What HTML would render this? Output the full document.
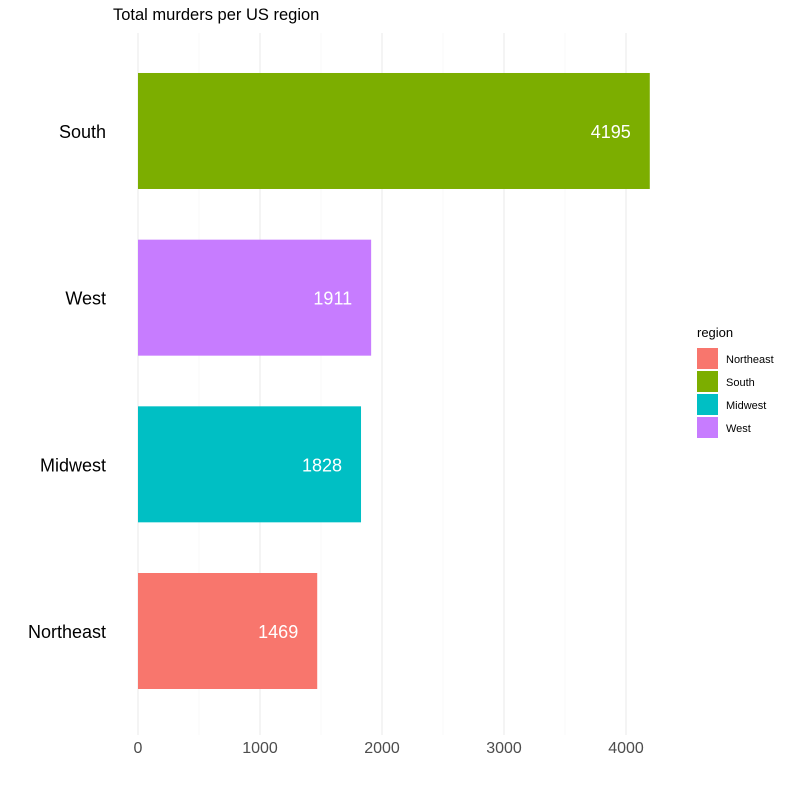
<!DOCTYPE html>
<html><head><meta charset="utf-8">
<style>
body{margin:0;background:#fff;font-family:"Liberation Sans",sans-serif;}
svg text{font-family:"Liberation Sans",sans-serif;}
</style></head>
<body>
<svg id="chart" width="793" height="781">
<text x="113" y="20" font-size="16.5" fill="#000">Total murders per US region</text>
<g id="grid"></g>
<g id="bars"></g>
<g id="legend">
<text x="697" y="337" font-size="13" fill="#000">region</text>
</g>
</svg>
<script>
const categories=["Northeast","Midwest","West","South"];
const values=[1469,1828,1911,4195];
const colors=["#F8766D","#00BFC4","#C77CFF","#7CAE00"];
const ticks=[0,1000,2000,3000,4000];
const legendOrder=["Northeast","South","Midwest","West"];
const legendColors=["#F8766D","#7CAE00","#00BFC4","#C77CFF"];
const NS="http://www.w3.org/2000/svg";
const x=v=>138+v*0.122;
const y=i=>631-i*166.67; // center
function mk(t,a,p){const e=document.createElementNS(NS,t);for(const k in a)e.setAttribute(k,a[k]);p.appendChild(e);return e;}
const grid=document.getElementById('grid');
for(let i=0;i<ticks.length;i++){
  const l=mk('line',{x1:x(ticks[i]),x2:x(ticks[i]),y1:33,y2:735,stroke:'#ebebeb','stroke-width':1.1},grid);
  
  
  if(i<ticks.length-1){
    const m=mk('line',{x1:x(ticks[i]+500),x2:x(ticks[i]+500),y1:33,y2:735,stroke:'#f3f3f3','stroke-width':0.6},grid);
    
    
  }
  const t=mk('text',{x:x(ticks[i]),y:753,'text-anchor':'middle','font-size':16,fill:'#4d4d4d'},grid);
  t.textContent=ticks[i];
  
  
}
const bars=document.getElementById('bars');
for(let i=0;i<categories.length;i++){
  const cy=y(i);
  const r=mk('rect',{x:x(0),y:cy-58,width:x(values[i])-x(0),height:116,fill:colors[i]},bars);
  
  
  const v=mk('text',{x:x(values[i])-19,y:cy+7,'text-anchor':'end','font-size':18,fill:'#fff'},bars);
  v.textContent=values[i];
  
  
  const c=mk('text',{x:106,y:cy+7,'text-anchor':'end','font-size':18,fill:'#000'},bars);
  c.textContent=categories[i];
  
  
}
const lg=document.getElementById('legend');
for(let i=0;i<legendOrder.length;i++){
  const yy=348+i*23;
  const k=mk('rect',{x:697,y:yy,width:21,height:21,fill:legendColors[i]},lg);
  
  
  const t=mk('text',{x:726,y:yy+15,'font-size':11,fill:'#000'},lg);
  t.textContent=legendOrder[i];
  
  
}
</script>
</body></html>
